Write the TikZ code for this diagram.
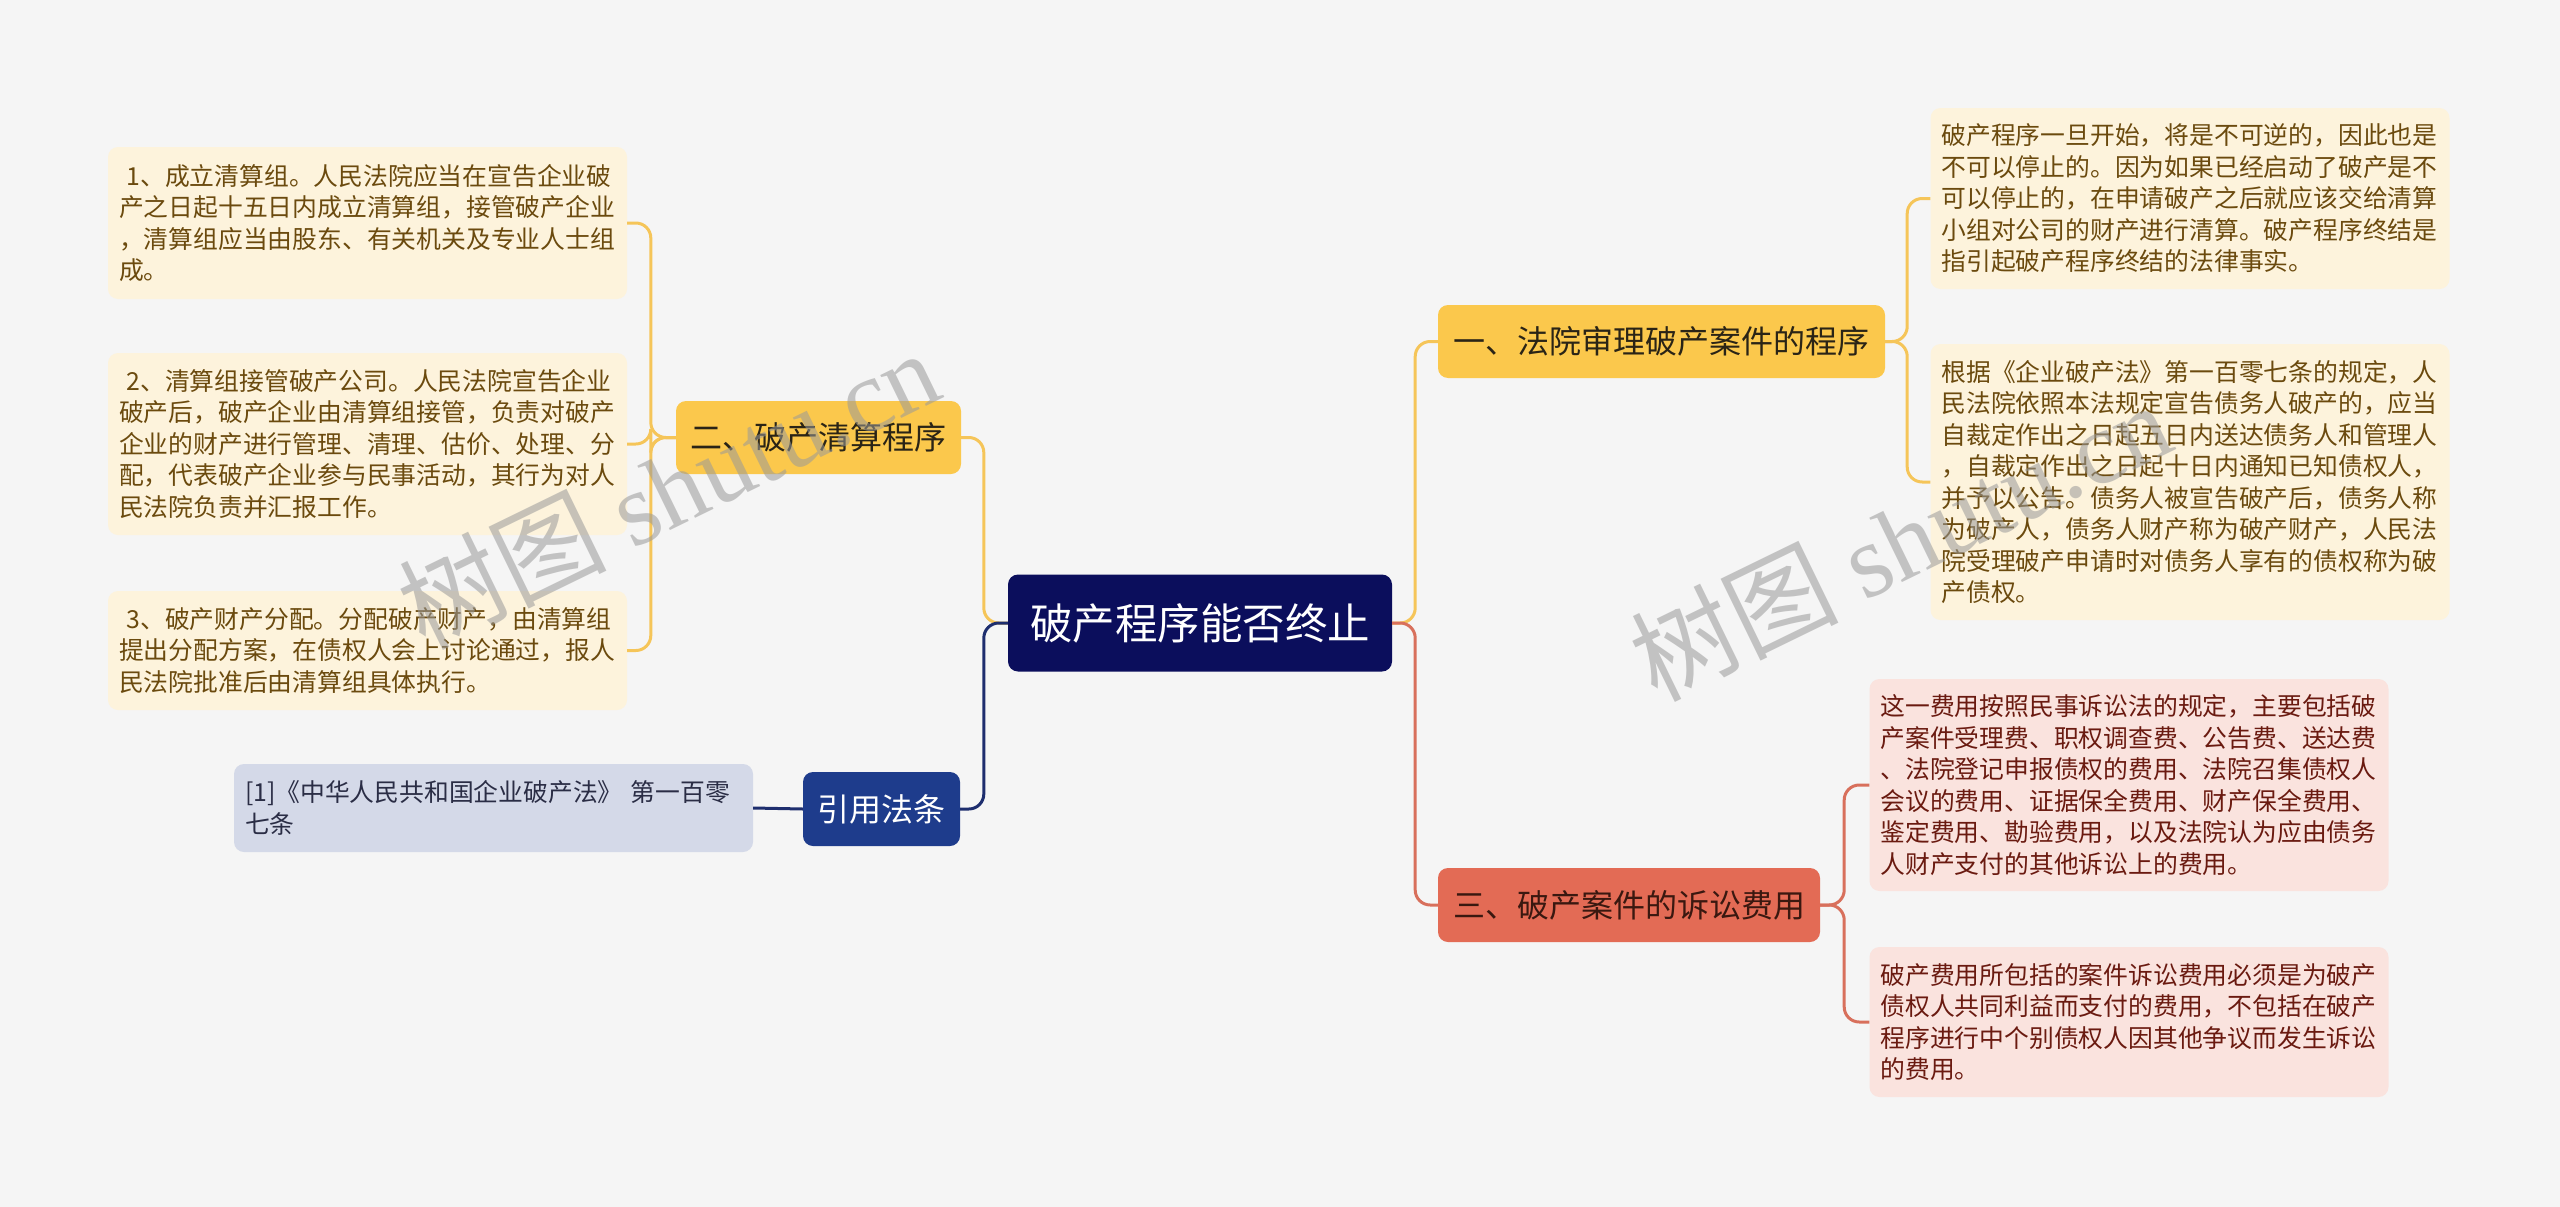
\documentclass[tikz,border=0pt]{standalone}
\usepackage{fontspec}
\setmainfont{Noto Sans CJK SC}
\newfontfamily\wmlatin{Liberation Serif}
\definecolor{bgc}{HTML}{F5F5F5}
\definecolor{navyc}{HTML}{0B0E5C}
\definecolor{ymain}{HTML}{FBC84C}
\definecolor{yline}{HTML}{F5C559}
\definecolor{yleaf}{HTML}{FDF3DC}
\definecolor{ytext}{HTML}{6B4A0E}
\definecolor{darkt}{HTML}{2A2416}
\definecolor{rmain}{HTML}{E36B55}
\definecolor{rline}{HTML}{D8705C}
\definecolor{pleaf}{HTML}{FAE3DE}
\definecolor{ptext}{HTML}{6A1A10}
\definecolor{rtext}{HTML}{3A1810}
\definecolor{bmain}{HTML}{1E3C8C}
\definecolor{bline}{HTML}{1E2E6E}
\definecolor{bleaf}{HTML}{D4D9E8}
\definecolor{btext}{HTML}{2A2D45}
\tikzset{
  mainbox/.style={rounded corners=10pt, inner sep=0pt, align=center, font=\fontsize{32}{38}\selectfont},
  leafbox/.style={rounded corners=10pt, inner xsep=11pt, inner ysep=0pt, text width=497pt, align=left, font=\fontsize{24.8}{31.5}\selectfont},
  conn/.style={line width=3pt, rounded corners=15pt},
  wmark/.style={text=gray!80, opacity=0.55, rotate=26, font=\fontsize{104}{104}\selectfont}
}
\begin{document}
\begin{tikzpicture}[x=1pt,y=-1pt]
\fill[bgc] (0,0) rectangle (2560,1207);
\useasboundingbox (0,0) rectangle (2560,1207);

% center
\node[mainbox, fill=navyc, text=white, minimum width=384pt, minimum height=97pt, font=\fontsize{42.5}{48}\selectfont] (c) at (1200,623) {破产程序能否终止};

% main branches
\node[mainbox, fill=ymain, text=darkt, minimum width=447pt, minimum height=73pt] (n1) at (1661.5,341.5) {一、法院审理破产案件的程序};
\node[mainbox, fill=ymain, text=darkt, minimum width=285pt, minimum height=73pt] (n2) at (818.5,437.5) {二、破产清算程序};
\node[mainbox, fill=rmain, text=rtext, minimum width=382pt, minimum height=74pt] (n3) at (1629,905) {三、破产案件的诉讼费用};
\node[mainbox, fill=bmain, text=white, minimum width=157pt, minimum height=74pt] (n4) at (881.5,809) {引用法条};

% left leaves
\node[leafbox, fill=yleaf, text=ytext, minimum height=152pt] (l1) at (367.5,223) {\hspace*{0.3em}1、成立清算组。人民法院应当在宣告企业破\\产之日起十五日内成立清算组，接管破产企业\\，清算组应当由股东、有关机关及专业人士组\\成。};
\node[leafbox, fill=yleaf, text=ytext, minimum height=182pt] (l2) at (367.5,444) {\hspace*{0.3em}2、清算组接管破产公司。人民法院宣告企业\\破产后，破产企业由清算组接管，负责对破产\\企业的财产进行管理、清理、估价、处理、分\\配，代表破产企业参与民事活动，其行为对人\\民法院负责并汇报工作。};
\node[leafbox, fill=yleaf, text=ytext, minimum height=119pt] (l3) at (367.5,650.5) {\hspace*{0.3em}3、破产财产分配。分配破产财产，由清算组\\提出分配方案，在债权人会上讨论通过，报人\\民法院批准后由清算组具体执行。};
\node[leafbox, fill=bleaf, text=btext, minimum height=88pt] (r0) at (493.5,808) {[1]《中华人民共和国企业破产法》 第一百零\\七条};

% right leaves
\node[leafbox, fill=yleaf, text=ytext, minimum height=181pt] (y1) at (2190,198.5) {破产程序一旦开始，将是不可逆的，因此也是\\不可以停止的。因为如果已经启动了破产是不\\可以停止的，在申请破产之后就应该交给清算\\小组对公司的财产进行清算。破产程序终结是\\指引起破产程序终结的法律事实。};
\node[leafbox, fill=yleaf, text=ytext, minimum height=276pt] (y2) at (2190,482) {根据《企业破产法》第一百零七条的规定，人\\民法院依照本法规定宣告债务人破产的，应当\\自裁定作出之日起五日内送达债务人和管理人\\，自裁定作出之日起十日内通知已知债权人，\\并予以公告。债务人被宣告破产后，债务人称\\为破产人，债务人财产称为破产财产，人民法\\院受理破产申请时对债务人享有的债权称为破\\产债权。};
\node[leafbox, fill=pleaf, text=ptext, minimum height=212pt] (p1) at (2129,785) {这一费用按照民事诉讼法的规定，主要包括破\\产案件受理费、职权调查费、公告费、送达费\\、法院登记申报债权的费用、法院召集债权人\\会议的费用、证据保全费用、财产保全费用、\\鉴定费用、勘验费用，以及法院认为应由债务\\人财产支付的其他诉讼上的费用。};
\node[leafbox, fill=pleaf, text=ptext, minimum height=150pt] (p2) at (2129,1022) {破产费用所包括的案件诉讼费用必须是为破产\\债权人共同利益而支付的费用，不包括在破产\\程序进行中个别债权人因其他争议而发生诉讼\\的费用。};

% connectors
\draw[conn, yline] (c.west) -- ++(-24,0) |- (n2.east);
\draw[conn, bline] (c.west) -- ++(-24,0) |- (n4.east);
\draw[conn, yline] (c.east) -- ++(23,0) |- (n1.west);
\draw[conn, rline] (c.east) -- ++(23,0) |- (n3.west);

\draw[conn, yline] (n2.west) -- ++(-25,0) |- (l1.east);
\draw[conn, yline] (n2.west) -- ++(-25,0) |- (l2.east);
\draw[conn, yline] (n2.west) -- ++(-25,0) |- (l3.east);
\draw[conn, bline] (n4.west) -- (r0.east);

\draw[conn, yline] (n1.east) -- ++(22,0) |- (y1.west);
\draw[conn, yline] (n1.east) -- ++(22,0) |- (y2.west);
\draw[conn, rline] (n3.east) -- ++(24,0) |- (p1.west);
\draw[conn, rline] (n3.east) -- ++(24,0) |- (p2.west);

% watermarks
\node[wmark] (w1) at (668,488) {树图 {\wmlatin shutu.cn}};
\node[wmark] (w2) at (1900,540) {树图 {\wmlatin shutu.cn}};
\end{tikzpicture}
\end{document}
